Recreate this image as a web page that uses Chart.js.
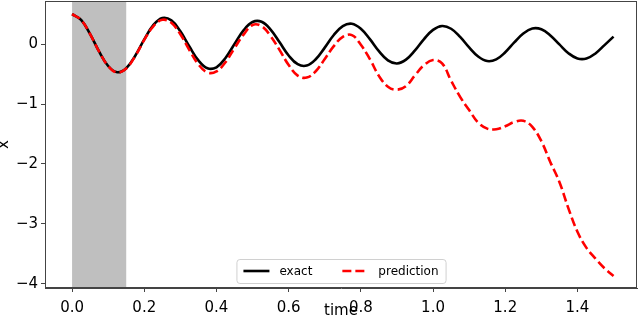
<!DOCTYPE html>
<html>
<head>
<meta charset="utf-8">
<script src="https://cdn.jsdelivr.net/npm/chart.js@4/dist/chart.umd.min.js"></script>
<style>
  html, body { margin: 0; padding: 0; background: #fff; }
  #wrap { width: 640px; height: 325px; }
</style>
</head>
<body>
<div id="wrap"><canvas id="myChart"></canvas></div>
<script>
// values
const times = [0, 0.025, 0.05, 0.075, 0.1, 0.125, 0.15, 0.175, 0.2, 0.225,
  0.25, 0.275, 0.3, 0.325, 0.35, 0.375, 0.4, 0.425, 0.45, 0.475,
  0.5, 0.525, 0.55, 0.575, 0.6, 0.625, 0.65, 0.675, 0.7, 0.725,
  0.75, 0.775, 0.8, 0.825, 0.85, 0.875, 0.9, 0.925, 0.95, 0.975,
  1.0, 1.025, 1.05, 1.075, 1.1, 1.125, 1.15, 1.175, 1.2, 1.225,
  1.25, 1.275, 1.3, 1.325, 1.35, 1.375, 1.4, 1.425, 1.45, 1.475, 1.5];

const exact = [0.500, 0.405, 0.167, -0.125, -0.365, -0.469, -0.402, -0.193, 0.080, 0.318,
  0.436, 0.396, 0.214, -0.039, -0.272, -0.403, -0.386, -0.231, 0.003, 0.229,
  0.369, 0.373, 0.244, 0.030, -0.189, -0.335, -0.358, -0.252, -0.058, 0.152,
  0.302, 0.341, 0.257, 0.083, -0.117, -0.270, -0.322, -0.258, -0.104, 0.085,
  0.238, 0.302, 0.257, 0.121, -0.055, -0.207, -0.282, -0.254, -0.135, 0.029,
  0.178, 0.261, 0.248, 0.146, -0.005, -0.151, -0.239, -0.240, -0.155, -0.016, 0.125];

const prediction = [0.500, 0.405, 0.167, -0.125, -0.365, -0.474, -0.407, -0.198, 0.070, 0.298,
  0.406, 0.356, 0.164, -0.099, -0.337, -0.473, -0.456, -0.301, -0.067, 0.159,
  0.320, 0.300, 0.134, -0.100, -0.349, -0.525, -0.558, -0.452, -0.248, -0.033,
  0.122, 0.151, -0.010, -0.250, -0.530, -0.710, -0.760, -0.700, -0.520, -0.350,
  -0.265, -0.320, -0.610, -0.880, -1.100, -1.310, -1.410, -1.420, -1.370, -1.300,
  -1.280, -1.380, -1.620, -1.970, -2.300, -2.740, -3.130, -3.400, -3.580, -3.740, -3.870];

const shadeFrom = 0.0;
const shadeTo = 0.15;

const xTicks = [0, 0.2, 0.4, 0.6, 0.8, 1.0, 1.2, 1.4];
const yTicks = [-4, -3, -2, -1, 0];

const FONT = 'DejaVu Sans';
const AXIS = '#444';

function pts(ys) {
    return ys.map((y, i) => ({ x: times[i], y: y }));
}

// grey band over the training interval
const shadePlugin = {
    id: 'shade',
    beforeDatasetsDraw(chart) {
        const { ctx, chartArea, scales } = chart;
        const x0 = scales.x.getPixelForValue(shadeFrom);
        const x1 = scales.x.getPixelForValue(shadeTo);
        ctx.save();
        ctx.fillStyle = '#bfbfbf';
        ctx.fillRect(x0, chartArea.top, x1 - x0, chartArea.bottom - chartArea.top);
        ctx.restore();
    }
};

// frame + legend box in the lower centre
const framePlugin = {
    id: 'frame',
    afterDraw(chart) {
        const { ctx, chartArea } = chart;
        ctx.save();
        ctx.strokeStyle = AXIS;
        ctx.lineWidth = 1;
        ctx.strokeRect(chartArea.left + 0.5, chartArea.top + 0.5,
            chartArea.right - chartArea.left - 1, chartArea.bottom - chartArea.top - 1);

        ctx.font = '12px "' + FONT + '"';
        const handle = 26, gap = 10, pad = 7, itemGap = 30;
        const items = chart.data.datasets.slice().sort((a, b) => a.legendIndex - b.legendIndex);
        let total = pad * 2;
        items.forEach((d, i) => {
            total += handle + gap + ctx.measureText(d.label).width;
            if (i > 0) total += itemGap;
        });
        const h = 24;
        const cx = (chartArea.left + chartArea.right) / 2;
        const left = cx - total / 2;
        const top = chartArea.bottom - 5 - h;

        ctx.fillStyle = 'rgba(255,255,255,0.8)';
        ctx.strokeStyle = '#d0d0d0';
        ctx.beginPath();
        ctx.roundRect(left + 0.5, top + 0.5, total, h, 3);
        ctx.fill();
        ctx.stroke();

        let x = left + pad;
        const y = top + h / 2;
        items.forEach((d, i) => {
            if (i > 0) x += itemGap;
            ctx.strokeStyle = d.borderColor;
            ctx.lineWidth = d.borderWidth;
            ctx.setLineDash(d.borderDash || []);
            ctx.beginPath();
            ctx.moveTo(x, y);
            ctx.lineTo(x + handle, y);
            ctx.stroke();
            ctx.setLineDash([]);
            x += handle + gap;
            ctx.fillStyle = '#000';
            ctx.textBaseline = 'middle';
            ctx.fillText(d.label, x, y + 1);
            x += ctx.measureText(d.label).width;
        });
        ctx.restore();
    }
};

const config = {
    type: 'line',
    data: {
        datasets: [
            {
                label: 'prediction',
                data: pts(prediction),
                borderColor: '#ff0000',
                borderWidth: 2.6,
                borderDash: [9, 4],
                pointRadius: 0,
                tension: 0.4,
                fill: false,
                legendIndex: 1
            },
            {
                label: 'exact',
                data: pts(exact),
                borderColor: '#000000',
                borderWidth: 2.6,
                pointRadius: 0,
                tension: 0.4,
                fill: false,
                legendIndex: 0
            }
        ]
    },
    options: {
        responsive: true,
        maintainAspectRatio: false,
        animation: false,
        layout: { padding: { top: 1, right: 3, left: 0, bottom: 0 } },
        plugins: {
            legend: { display: false },
            tooltip: { enabled: false }
        },
        scales: {
            x: {
                type: 'linear',
                min: -0.075,
                max: 1.565,
                afterFit(scale) {
                    scale.height = 37;
                    scale.paddingLeft = 0;
                    scale.paddingRight = 0;
                },
                afterBuildTicks(scale) { scale.ticks = xTicks.map(v => ({ value: v })); },
                ticks: {
                    includeBounds: false,
                    autoSkip: false,
                    maxRotation: 0,
                    padding: 7,
                    color: '#000',
                    font: { family: FONT, size: 15 },
                    callback: v => v.toFixed(1)
                },
                grid: { drawOnChartArea: false, drawTicks: true, tickLength: 4, color: AXIS },
                border: { display: true, color: AXIS },
                title: {
                    display: true,
                    text: 'time',
                    color: '#000',
                    font: { family: FONT, size: 15, lineHeight: 1.2 },
                    padding: { top: 0, bottom: 5 }
                }
            },
            y: {
                min: -4.07,
                max: 0.72,
                afterFit(scale) {
                    scale.width = 45;
                    scale.paddingTop = 0;
                    scale.paddingBottom = 0;
                },
                afterBuildTicks(scale) { scale.ticks = yTicks.map(v => ({ value: v })); },
                ticks: {
                    includeBounds: false,
                    padding: 3,
                    color: '#000',
                    font: { family: FONT, size: 15 },
                    callback: v => (v < 0 ? '\u2212' + Math.abs(v) : String(v))
                },
                grid: { drawOnChartArea: false, drawTicks: true, tickLength: 4, color: AXIS },
                border: { display: true, color: AXIS },
                title: {
                    display: true,
                    text: 'x',
                    color: '#000',
                    font: { family: FONT, size: 15, lineHeight: 1 },
                    padding: { top: -3, bottom: 0 }
                }
            }
        }
    },
    plugins: [shadePlugin, framePlugin]
};

const myChart = new Chart(document.getElementById('myChart'), config);
</script>
</body>
</html>
